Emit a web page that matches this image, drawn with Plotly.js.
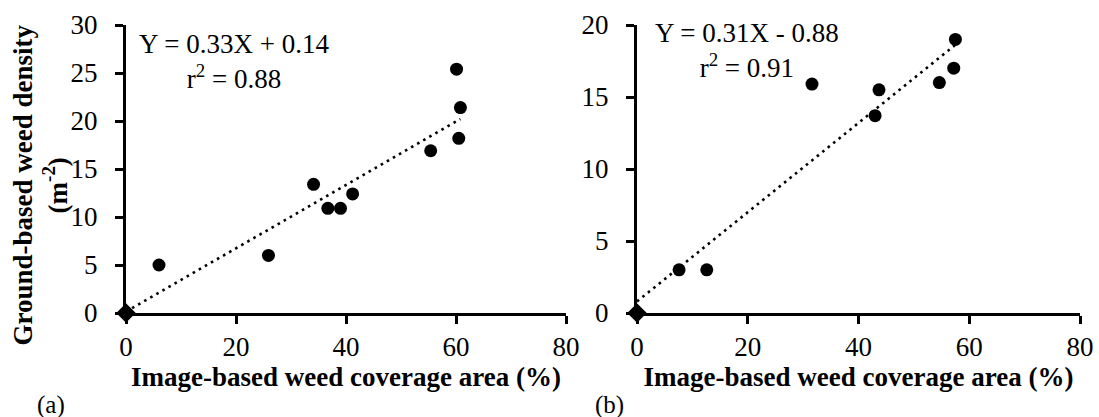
<!DOCTYPE html>
<html>
<head>
<meta charset="utf-8">
<script src="https://cdn.plot.ly/plotly-3.0.1.min.js"></script>
<style>html,body{margin:0;padding:0;background:#fff;}#chart{width:1099px;height:417px;}</style>
</head>
<body>
<div id="chart"></div>
<script>
// Panel (a)
const coverageA = [6.0, 25.9, 34.1, 36.7, 39.0, 41.2, 55.4, 60.1, 60.8, 60.5];
const densityA  = [5.0, 6.0, 13.4, 10.9, 10.9, 12.4, 16.9, 25.4, 21.4, 18.2];
const slopeA = 0.33, interceptA = 0.14, trendRangeA = [0, 60.8];
const eqA = "Y = 0.33X + 0.14", r2A = "0.88";
// Panel (b)
const coverageB = [7.6, 12.6, 31.6, 43.0, 43.7, 54.6, 57.2, 57.5];
const densityB  = [3.0, 3.0, 15.9, 13.7, 15.5, 16.0, 17.0, 19.0];
const slopeB = 0.31, interceptB = 0.8, trendRangeB = [0, 57.5];
const eqB = "Y = 0.31X - 0.88", r2B = "0.91";
// Origin point in both panels
const originX = [0], originY = [0];
const xTicks = [0, 20, 40, 60, 80];
const xLabel = "Image-based weed coverage area (%)";
const yLabel = "Ground-based weed density";
const yUnit = "(m<sup>-2</sup>)";

const serif = "Liberation Serif";
const black = "#000";

function trend(range, m, b) {
  return {x: range, y: range.map(v => m * v + b)};
}
const tA = trend(trendRangeA, slopeA, interceptA);
const tB = trend(trendRangeB, slopeB, interceptB);

const dotLine = {color: black, width: 2.6, dash: "2.6px,4.4px"};
const circ = {color: black, size: 13, symbol: "circle"};
const diam = {color: black, size: 15, symbol: "diamond"};

const traces = [
  {x: tA.x, y: tA.y, mode: "lines", line: dotLine, xaxis: "x", yaxis: "y", hoverinfo: "skip", cliponaxis: false},
  {x: coverageA, y: densityA, mode: "markers", marker: circ, xaxis: "x", yaxis: "y", cliponaxis: false},
  {x: originX, y: originY, mode: "markers", marker: diam, xaxis: "x", yaxis: "y", cliponaxis: false},
  {x: tB.x, y: tB.y, mode: "lines", line: dotLine, xaxis: "x2", yaxis: "y2", hoverinfo: "skip", cliponaxis: false},
  {x: coverageB, y: densityB, mode: "markers", marker: circ, xaxis: "x2", yaxis: "y2", cliponaxis: false},
  {x: originX, y: originY, mode: "markers", marker: diam, xaxis: "x2", yaxis: "y2", cliponaxis: false}
];

const axisCommon = {
  showgrid: false, zeroline: false, showline: true, linecolor: black, linewidth: 3,
  ticks: "outside", ticklen: 8, tickwidth: 3, tickcolor: black,
  tickfont: {family: serif, size: 27, color: black}, fixedrange: true
};
const xTitle = {text: "<b>" + xLabel + "</b>", font: {family: serif, size: 27, color: black}, standoff: 5};

const layout = {
  width: 1099, height: 417,
  font: {family: serif, size: 27, color: black},
  margin: {l: 126, r: 19, t: 25, b: 104},
  paper_bgcolor: "#fff", plot_bgcolor: "#fff",
  showlegend: false,
  xaxis: Object.assign({}, axisCommon, {domain: [0, 0.46122], range: [0, 80], tickvals: xTicks, ticklabelstandoff: 0, title: xTitle, anchor: "y"}),
  yaxis: Object.assign({}, axisCommon, {range: [0, 30], dtick: 5, ticklabelstandoff: 12, anchor: "x"}),
  xaxis2: Object.assign({}, axisCommon, {domain: [0.53564, 1], range: [0, 80], tickvals: xTicks, ticklabelstandoff: 0, title: xTitle, anchor: "y2"}),
  yaxis2: Object.assign({}, axisCommon, {range: [0, 20], dtick: 5, ticklabelstandoff: 12, anchor: "x2"}),
  annotations: [
    {xref: "paper", yref: "paper", x: -0.0901, y: 0.4427, text: "<b>" + yLabel + "<br>" + yUnit + "</b>", textangle: -90, showarrow: false, align: "center", xanchor: "center", yanchor: "middle", font: {family: serif, size: 27, color: black}},
    {xref: "x", yref: "y", x: 19.6, y: 26.2, text: eqA + "<br>r<sup>2</sup> = " + r2A, showarrow: false, align: "center", xanchor: "center", yanchor: "middle", font: {family: serif, size: 27, color: black}},
    {xref: "x2", yref: "y2", x: 19.9, y: 18.2, text: eqB + "<br>r<sup>2</sup> = " + r2B, showarrow: false, align: "center", xanchor: "center", yanchor: "middle", font: {family: serif, size: 27, color: black}},
    {xref: "paper", yref: "paper", x: -0.0954, y: -0.32, text: "(a)", showarrow: false, xanchor: "left", yanchor: "middle", font: {family: serif, size: 25, color: black}},
    {xref: "paper", yref: "paper", x: 0.4895, y: -0.32, text: "(b)", showarrow: false, xanchor: "left", yanchor: "middle", font: {family: serif, size: 25, color: black}}
  ]
};

Plotly.newPlot("chart", traces, layout, {displayModeBar: false, staticPlot: true});
</script>
</body>
</html>
